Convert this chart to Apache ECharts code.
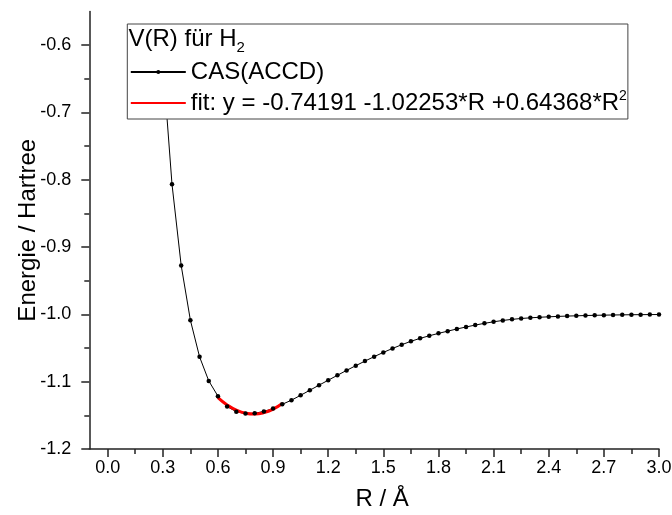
<!DOCTYPE html>
<html><head><meta charset="utf-8">
<script src="https://cdn.jsdelivr.net/npm/echarts@6/dist/echarts.min.js"></script>
<style>html,body{margin:0;padding:0;background:#fff}#c{width:672px;height:515px}</style>
</head><body><div id="c"></div>
<script>
const casR = [0.30,0.35,0.40,0.45,0.50,0.55,0.60,0.65,0.70,0.75,0.80,0.85,0.90,0.95,
  1.00,1.05,1.10,1.15,1.20,1.25,1.30,1.35,1.40,1.45,1.50,1.55,1.60,1.65,1.70,1.75,1.80,1.85,1.90,1.95,
  2.00,2.05,2.10,2.15,2.20,2.25,2.30,2.35,2.40,2.45,2.50,2.55,2.60,2.65,2.70,2.75,2.80,2.85,2.90,2.95,3.00];
const casE = [-0.625,-0.8065,-0.9273,-1.0086,-1.0631,-1.0988,-1.1215,-1.1370,-1.1446,-1.1472,-1.1470,-1.1441,-1.1400,-1.1336,
  -1.1275,-1.1202,-1.1127,-1.1052,-1.0978,-1.0905,-1.0832,-1.0762,-1.0694,-1.0628,-1.0565,-1.0506,-1.0451,-1.0400,-1.0356,-1.0318,-1.0282,-1.0249,-1.0217,-1.0187,
  -1.0159,-1.0133,-1.0110,-1.0090,-1.0074,-1.0061,-1.0051,-1.0043,-1.0036,-1.0030,-1.0025,-1.0021,-1.0017,-1.0014,-1.0011,-1.0009,-1.0007,-1.0005,-1.0004,-1.0003,-1.0002];
const fitR = [0.60,0.65,0.70,0.75,0.80,0.85,0.90,0.95];
const fitE = [-1.12371,-1.13460,-1.14228,-1.14674,-1.14798,-1.14600,-1.14081,-1.13239];
const xMajorTicks = [0.0,0.3,0.6,0.9,1.2,1.5,1.8,2.1,2.4,2.7,3.0];
const xMinorTicks = [0.15,0.45,0.75,1.05,1.35,1.65,1.95,2.25,2.55,2.85];
const yMajorTicks = [-1.2,-1.1,-1.0,-0.9,-0.8,-0.7,-0.6];
const yMinorTicks = [-1.15,-1.05,-0.95,-0.85,-0.75,-0.65];
const casName = 'CAS(ACCD)';
const fitName = 'fit';
const fitLabel = 'fit: y = -0.74191 -1.02253*R +0.64368*R';
const titleMain = 'V(R) für H';
const xName = 'R / Å';
const yName = 'Energie / Hartree';

const FF = '"Liberation Sans", Arial, sans-serif';
const AX = '#222';
const chart = echarts.init(document.getElementById('c'), null, {renderer: 'canvas'});
const zip = (a, b) => a.map((v, i) => [v, b[i]]);

const baseX = {type: 'value', min: -0.1, max: 3.0, position: 'bottom', splitLine: {show: false}};
const baseY = {type: 'value', min: -1.2, max: -0.55, position: 'left', splitLine: {show: false}};

chart.setOption({
  animation: false,
  backgroundColor: '#fff',
  grid: {left: 89.3, right: 13, top: 11.5, bottom: 66, outerBoundsMode: 'none'},
  title: {
    text: '{a|' + titleMain + '}{s|2}',
    left: 128.5, top: 23.5, padding: 0,
    textStyle: {
      fontWeight: 'normal',
      rich: {
        a: {fontFamily: FF, fontSize: 24, fontWeight: 'normal', color: '#000', lineHeight: 32},
        s: {fontFamily: FF, fontSize: 15, fontWeight: 'normal', color: '#000', verticalAlign: 'bottom'}
      }
    }
  },
  legend: {
    orient: 'vertical', left: 127.3, top: 24,
    padding: [34.5, 1, 2.5, 2.5],
    itemWidth: 55, itemHeight: 5, itemGap: 4,
    backgroundColor: '#fff', borderColor: '#444', borderWidth: 1,
    selectedMode: false,
    textStyle: {
      fontFamily: FF, fontSize: 24, color: '#000', lineHeight: 27,
      rich: {
        t: {fontFamily: FF, fontSize: 24, color: '#000', lineHeight: 27},
        p: {fontFamily: FF, fontSize: 14, color: '#000', verticalAlign: 'top'}
      }
    },
    formatter: n => n === fitName ? '{t|' + fitLabel + '}{p|2}' : n,
    data: [{name: casName}, {name: fitName, itemStyle: {opacity: 0}}]
  },
  xAxis: [
    Object.assign({}, baseX, {
      name: xName, nameLocation: 'middle', nameGap: 38, nameMoveOverlap: false,
      nameTextStyle: {fontFamily: FF, fontSize: 24, color: '#000', padding: [0, 0, 0, 16]},
      axisLine: {show: true, onZero: false, lineStyle: {color: AX, width: 1.5}},
      axisTick: {show: true, inside: false, length: 8, lineStyle: {color: AX, width: 1.5}, customValues: xMajorTicks},
      axisLabel: {show: true, margin: 10, fontFamily: FF, fontSize: 18, color: '#000',
        customValues: xMajorTicks, formatter: v => v.toFixed(1)}
    }),
    Object.assign({}, baseX, {
      axisLine: {show: false, onZero: false},
      axisTick: {show: true, inside: false, length: 5, lineStyle: {color: AX, width: 1.5}, customValues: xMinorTicks},
      axisLabel: {show: false}
    })
  ],
  yAxis: [
    Object.assign({}, baseY, {
      name: yName, nameLocation: 'middle', nameGap: 49, nameMoveOverlap: false,
      nameTextStyle: {fontFamily: FF, fontSize: 24, color: '#000'},
      axisLine: {show: true, onZero: false, lineStyle: {color: AX, width: 1.5}},
      axisTick: {show: true, inside: false, length: 8, lineStyle: {color: AX, width: 1.5}, customValues: yMajorTicks},
      axisLabel: {show: true, margin: 18, fontFamily: FF, fontSize: 18, color: '#000',
        customValues: yMajorTicks, formatter: v => v.toFixed(1)}
    }),
    Object.assign({}, baseY, {
      axisLine: {show: false, onZero: false},
      axisTick: {show: true, inside: false, length: 5, lineStyle: {color: AX, width: 1.5}, customValues: yMinorTicks},
      axisLabel: {show: false}
    })
  ],
  series: [
    {
      name: casName, type: 'line', xAxisIndex: 0, yAxisIndex: 0,
      data: zip(casR, casE),
      symbol: 'circle', symbolSize: 4.5, showSymbol: true, showAllSymbol: true,
      lineStyle: {color: '#000', width: 1},
      itemStyle: {color: '#000'},
      emphasis: {disabled: true}
    },
    {
      name: fitName, type: 'line', xAxisIndex: 0, yAxisIndex: 0,
      data: zip(fitR, fitE),
      smooth: true, symbol: 'none',
      lineStyle: {color: '#ff0000', width: 3},
      itemStyle: {color: '#ff0000'},
      emphasis: {disabled: true}
    }
  ]
});
</script>
</body></html>
